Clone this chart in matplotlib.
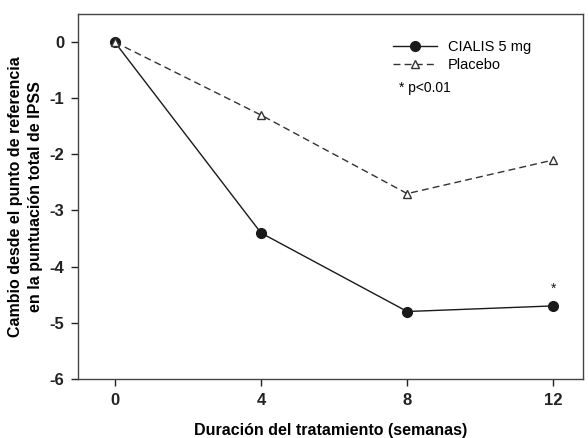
import matplotlib
matplotlib.use("Agg")
import matplotlib.pyplot as plt

plt.rcParams['font.family'] = ['Liberation Sans', 'DejaVu Sans']

weeks = [0, 4, 8, 12]
cialis = [0, -3.4, -4.8, -4.7]
placebo = [0, -1.3, -2.7, -2.1]
xticks = [0, 4, 8, 12]
yticks = [0, -1, -2, -3, -4, -5, -6]

fig = plt.figure(figsize=(5.88, 4.38), dpi=100)
ax = fig.add_axes([0.133, 0.135, 0.858, 0.833])

ax.plot(weeks, cialis, '-', color='#1a1a1a', lw=1.0, marker='o', ms=7,
        mfc='#1a1a1a', mec='#1a1a1a', label='CIALIS 5 mg', zorder=3)
ax.plot(weeks, placebo, '--', color='#333333', lw=1.0, marker='^', ms=6,
        mfc='white', mec='#333333', dashes=(5, 3), label='Placebo', zorder=4)

ax.text(weeks[-1], cialis[-1] + 0.18, '*', ha='center', va='bottom', fontsize=10, color='#1a1a1a')

ax.set_xlim(-1, 12.8)
ax.set_ylim(-6, 0.5)
ax.set_xticks(xticks)
ax.set_yticks(yticks)
ax.set_xticklabels([str(t) for t in xticks], fontweight='bold', fontsize=12)
ax.set_yticklabels([str(t) for t in yticks], fontweight='bold', fontsize=12)
ax.tick_params(direction='out', length=5, width=1, colors='#222222', pad=5)
for s in ax.spines.values():
    s.set_color('#444444')
    s.set_linewidth(1)

ax.set_xlabel('Duración del tratamiento (semanas)', fontweight='bold', fontsize=11.5, labelpad=11)
ax.set_ylabel('Cambio desde el punto de referencia\nen la puntuación total de IPSS',
              fontweight='bold', fontsize=11.5, labelpad=5, linespacing=1.35)

leg = ax.legend(loc='upper left', bbox_to_anchor=(0.612, 0.945), frameon=False,
                fontsize=10.5, handlelength=3, borderaxespad=0, labelspacing=0.3)
ax.text(0.636, 0.797, '* p<0.01', transform=ax.transAxes, fontsize=10, va='center')

fig.savefig('out.png', dpi=100)
